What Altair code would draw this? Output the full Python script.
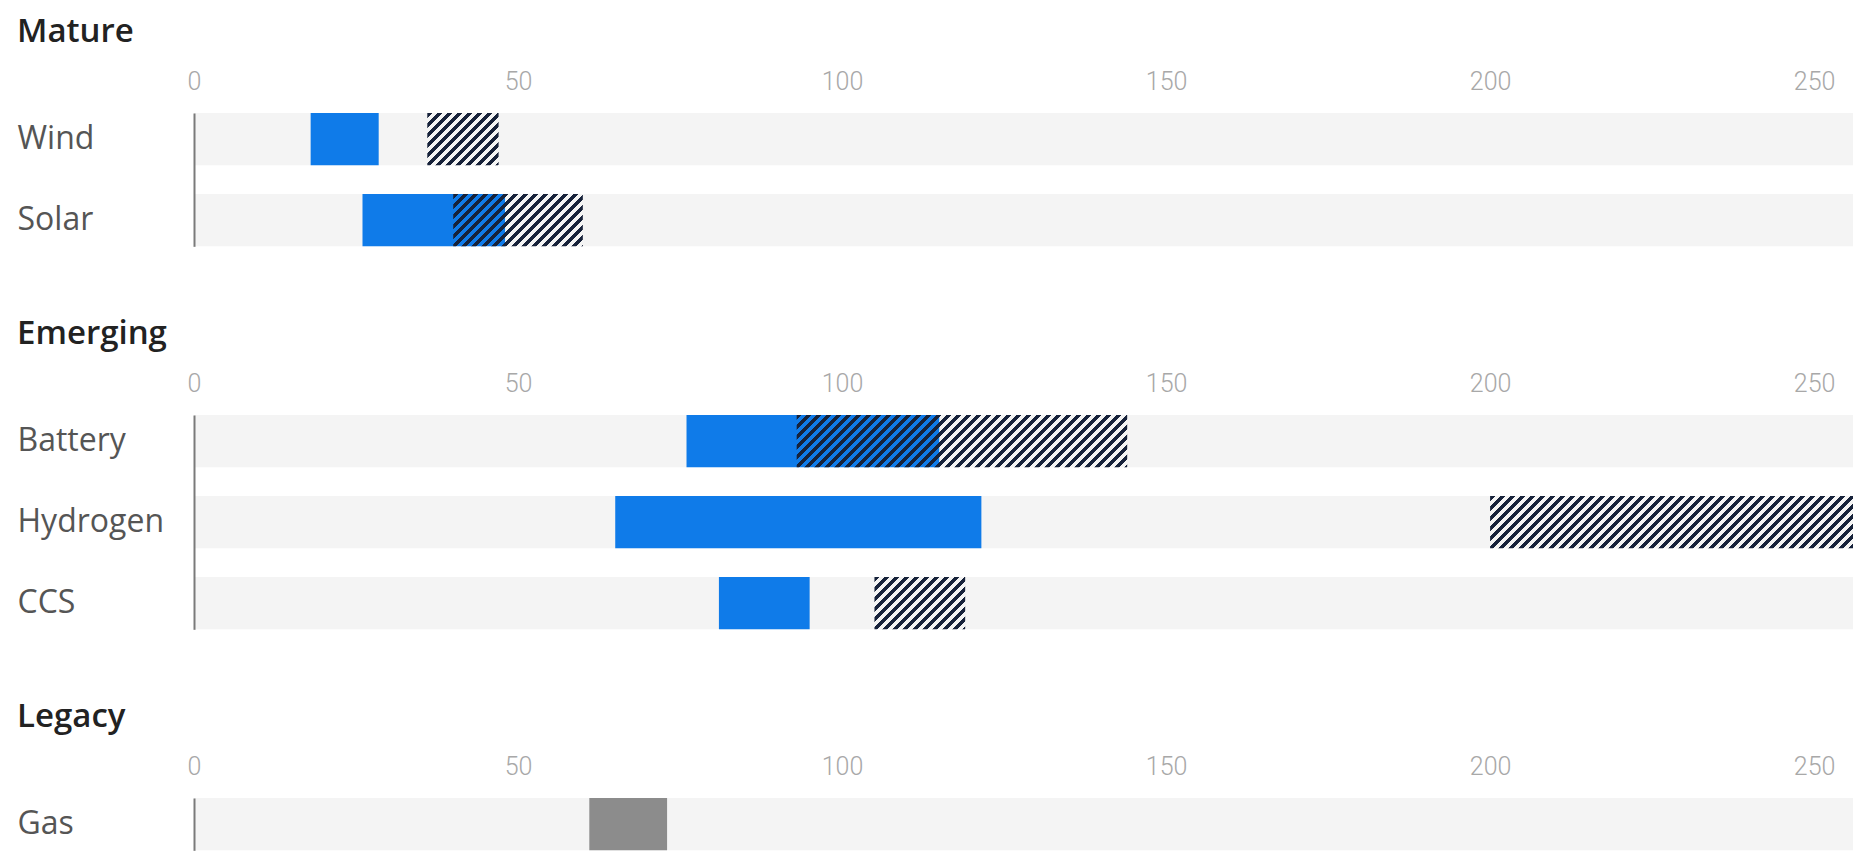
import math
import altair as alt
import pandas as pd

# Cost ranges per technology: current range (solid) and projected range (hatched)
groups = ["Mature", "Mature", "Emerging", "Emerging", "Emerging", "Legacy"]
techs = ["Wind", "Solar", "Battery", "Hydrogen", "CCS", "Gas"]
current_low = [18, 26, 76, 65, 81, 61]
current_high = [28.5, 48, 115, 121.5, 95, 73]
target_low = [36, 40, 93, 200, 105, None]
target_high = [47, 60, 144, 256, 119, None]
tick_values = [0, 50, 100, 150, 200, 250]

X_MAX = 256
PLOT_W = 1659
STEP = 81
PAD_INNER = 0.354
BAR_H = STEP * (1 - PAD_INNER)

BLUE = "#0f7be9"
NAVY = "#17223a"
GRAY = "#8c8c8c"
TRACK = "#f4f4f4"

df = pd.DataFrame({
    "group": groups,
    "tech": techs,
    "cur_lo": current_low,
    "cur_hi": current_high,
    "tgt_lo": target_low,
    "tgt_hi": target_high,
})


def hatch_fill(lo, hi, period=10.0, dark=0.5):
    """Diagonal stripe fill built as a hard-stop linear gradient sized to one bar."""
    w = (hi - lo) * PLOT_W / X_MAX
    h = BAR_H
    s = (w * w + h * h) / (w + h)
    span = w + h
    stops = []
    n = int(math.ceil(span / period)) + 1
    clear = "rgba(255,255,255,0)"
    for k in range(n):
        a = min(k * period / span, 1)
        b = min((k * period + dark * period) / span, 1)
        c = min((k + 1) * period / span, 1)
        stops += [
            alt.GradientStop(offset=a, color=NAVY),
            alt.GradientStop(offset=b, color=NAVY),
            alt.GradientStop(offset=b, color=clear),
            alt.GradientStop(offset=c, color=clear),
        ]
    return alt.LinearGradient(gradient="linear", stops=stops,
                              x1=0, y1=0, x2=w / s, y2=h / s)


def panel(group):
    sub = df[df["group"] == group]
    names = list(sub["tech"])
    base = alt.Chart(sub)
    y = alt.Y(
        "tech:N", sort=names, title=None,
        scale=alt.Scale(paddingInner=PAD_INNER, paddingOuter=0),
        axis=alt.Axis(
            orient="left", ticks=False, domain=True, domainColor="#7a7a7a",
            domainWidth=2, labelAlign="left", labelPadding=177,
            labelFont="Open Sans", labelFontSize=32, labelColor="#555555",
            labelLimit=300, zindex=1,
        ),
    )
    xscale = alt.Scale(domain=[0, X_MAX], nice=False, zero=True)
    xaxis = alt.Axis(
        orient="top", values=tick_values, ticks=False, domain=False,
        grid=False, labelFont="Roboto", labelFontWeight=300, labelFontSize=25,
        labelColor="#a8a8a8", labelPadding=19, labelFlush=False,
    )
    track = base.mark_bar(color=TRACK).encode(
        y=y,
        x=alt.X(datum=0, scale=xscale, axis=xaxis, title=None),
        x2=alt.X2(datum=X_MAX),
    )
    solid = base.mark_bar(color=GRAY if group == "Legacy" else BLUE).encode(
        y=y,
        x=alt.X("cur_lo:Q", scale=xscale, axis=xaxis, title=None),
        x2="cur_hi:Q",
    )
    layers = [track, solid]
    for _, row in sub.iterrows():
        if pd.isna(row["tgt_lo"]):
            continue
        layers.append(
            base.transform_filter(alt.datum.tech == row["tech"])
            .mark_bar(fill=hatch_fill(row["tgt_lo"], row["tgt_hi"]))
            .encode(
                y=y,
                x=alt.X("tgt_lo:Q", scale=xscale, axis=xaxis, title=None),
                x2="tgt_hi:Q",
            )
        )
    return alt.layer(*layers).properties(
        width=PLOT_W,
        height=alt.Step(STEP),
        title=alt.TitleParams(
            text=group, anchor="start", frame="bounds", font="Open Sans",
            fontSize=33, fontWeight=600, color="#222222", offset=20.5,
        ),
    )


chart = (
    alt.vconcat(panel("Mature"), panel("Emerging"), panel("Legacy"), spacing=70)
    .properties(padding={"left": 17, "top": 15, "right": 0, "bottom": 0},
                background="white")
    .configure_view(stroke=None)
)

chart.save("out.html", embed_options={"renderer": "svg", "actions": False})
